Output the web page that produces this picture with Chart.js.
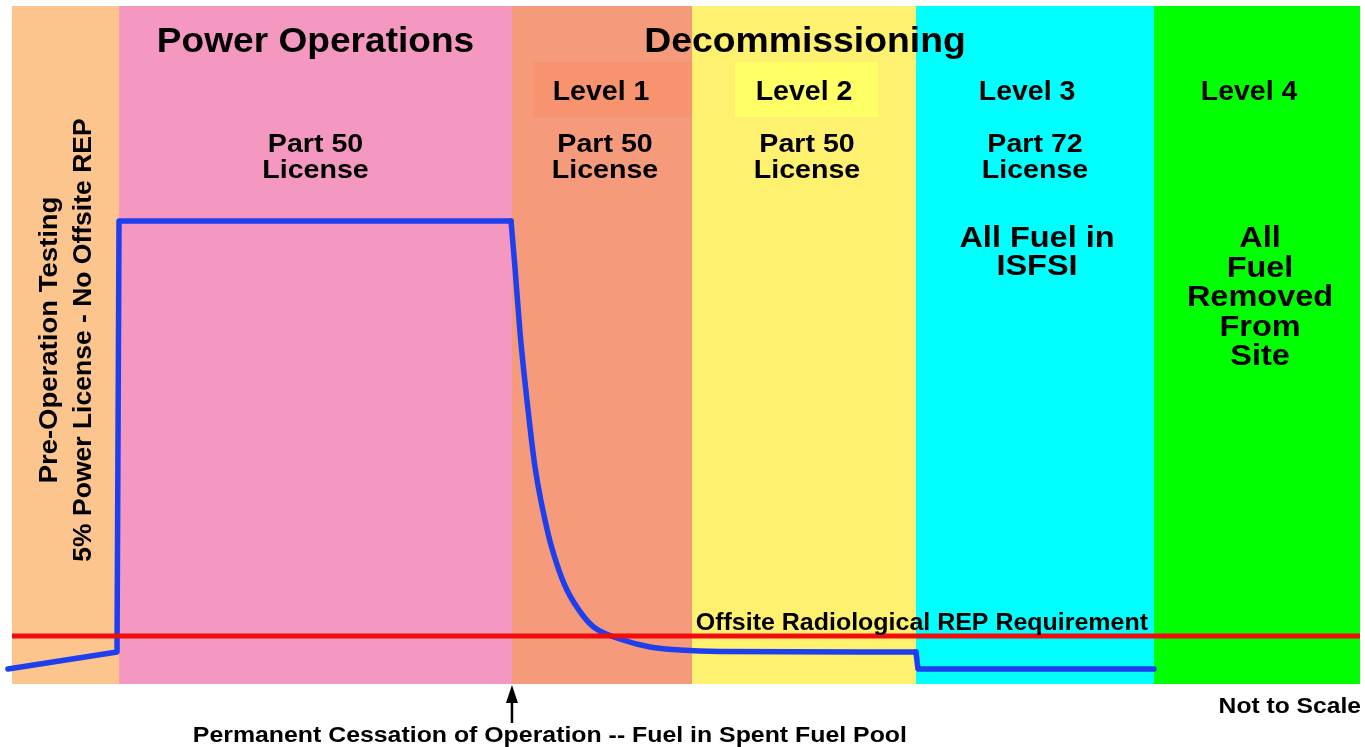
<!DOCTYPE html>
<html>
<head>
<meta charset="utf-8">
<script src="https://cdn.jsdelivr.net/npm/chart.js@4.4.1/dist/chart.umd.min.js"></script>
<style>
  html, body { margin: 0; padding: 0; background: #fff; }
  #wrap { width: 1365px; height: 747px; position: relative; }
</style>
</head>
<body>
<div id="wrap"><canvas id="phaseChart"></canvas></div>
<script>
// Datos (escala relativa, "Not to Scale")
const bandEdges = [0, 7.94, 37.09, 50.45, 67.06, 84.72, 100];
const phaseTitles = ['Power Operations', 'Decommissioning'];
const levelLabels = ['Level 1', 'Level 2', 'Level 3', 'Level 4'];
const licenseLabels = [['Part 50', 'License'], ['Part 50', 'License'], ['Part 50', 'License'], ['Part 72', 'License']];
const fuelLabels = [['All Fuel in', 'ISFSI'], ['All', 'Fuel', 'Removed', 'From', 'Site']];
const preOpLabels = ['Pre-Operation Testing', '5% Power License - No Offsite REP'];
const repLabel = 'Offsite Radiological REP Requirement';
const cessationLabel = 'Permanent Cessation of Operation -- Fuel in Spent Fuel Pool';
const scaleNote = 'Not to Scale';

// Curva de riesgo
const riskX = [-0.3, 7.79, 7.94, 37.02, 37.31, 37.69, 38.2, 38.8, 39.76, 40.47, 41.17, 42.38, 43.25, 45.33, 47.33, 49.55, 52.5, 67.06, 67.21, 84.72];
const riskY = [2.21, 4.72, 68.29, 68.29, 61.5, 51.77, 41.9, 32.0, 22.27, 17.4, 13.86, 10.03, 8.26, 6.49, 5.46, 5.01, 4.79, 4.72, 2.21, 2.21];
const decayStart = 3;   // índice donde empieza la caída
const decayEnd = 17;    // índice donde termina

// Requisito REP
const repX = [0, 100];
const repY = [7.08, 7.08];

const bandColors = ['#FDC58E', '#F498C2', '#F59A7B', '#FEF170', '#00FFFF', '#00FF00'];
const FONT = '"Liberation Sans", Arial, sans-serif';
const BLUE = '#1E3FEE';

function txt(ctx, s, x, y, size, sx, align) {
    ctx.save();
    ctx.font = 'bold ' + size + 'px ' + FONT;
    ctx.textAlign = align || 'center';
    ctx.textBaseline = 'alphabetic';
    ctx.fillStyle = '#000';
    ctx.translate(x, y);
    ctx.scale(sx || 1, 1);
    ctx.fillText(s, 0, 0);
    ctx.restore();
}

const bandsPlugin = {
    id: 'bands',
    beforeDatasetsDraw(chart) {
        const { ctx, chartArea, scales } = chart;
        const xs = scales.x;
        const px = v => xs.getPixelForValue(v);
        const mid = i => (px(bandEdges[i]) + px(bandEdges[i + 1])) / 2;
        ctx.save();
        // Bandas de fases
        for (let i = 0; i < bandColors.length; i++) {
            ctx.fillStyle = bandColors[i];
            ctx.fillRect(px(bandEdges[i]), chartArea.top, px(bandEdges[i + 1]) - px(bandEdges[i]), chartArea.bottom - chartArea.top);
        }
        // Cajas de Level 1 y 2
        ctx.fillStyle = '#F7946F';
        ctx.fillRect(px(38.65), 62, px(50.45) - px(38.65), 55);
        ctx.fillStyle = '#FFFF66';
        ctx.fillRect(px(53.64), 62, px(64.24) - px(53.64), 55);

        // Títulos
        txt(ctx, phaseTitles[0], mid(1), 52, 35, 1.06);
        txt(ctx, phaseTitles[1], px(58.83), 52, 35, 1.067);

        const levelX = [mid(2) - 1, mid(3), px(75.3), px(91.77)];
        levelLabels.forEach((s, i) => txt(ctx, s, levelX[i], 100, 27, 1.055));

        const licX = [mid(1), mid(2) + 3, mid(3) + 3, mid(4)];
        licenseLabels.forEach((lines, i) => {
            txt(ctx, lines[0], licX[i], 152, 26, 1.1);
            txt(ctx, lines[1], licX[i], 178, 26, 1.1);
        });

        fuelLabels[0].forEach((s, i) => txt(ctx, s, mid(4) + 2, 247 + i * 28, 29, 1.12));
        fuelLabels[1].forEach((s, i) => txt(ctx, s, mid(5) + 3, 247 + i * 29.5, 29, 1.12));

        // Texto vertical
        ctx.save();
        ctx.translate(57, 340);
        ctx.rotate(-Math.PI / 2);
        txt(ctx, preOpLabels[0], 0, 0, 25, 1.1);
        txt(ctx, preOpLabels[1], 0, 34, 25, 1.06);
        ctx.restore();

        ctx.restore();
    },
    afterDraw(chart) {
        const { ctx, scales } = chart;
        const px = v => scales.x.getPixelForValue(v);
        ctx.save();
        txt(ctx, repLabel, px(67.5), 630, 24, 1.04);
        txt(ctx, cessationLabel, px(39.9), 742, 22, 1.13);
        txt(ctx, scaleNote, 1361, 713, 22, 1.12, 'right');

        // Flecha de cese permanente
        const ax = px(bandEdges[2]);
        ctx.strokeStyle = '#000';
        ctx.lineWidth = 2.5;
        ctx.beginPath();
        ctx.moveTo(ax, 700);
        ctx.lineTo(ax, 723);
        ctx.stroke();
        ctx.fillStyle = '#000';
        ctx.beginPath();
        ctx.moveTo(ax, 685);
        ctx.lineTo(ax - 6, 703);
        ctx.lineTo(ax + 6, 703);
        ctx.closePath();
        ctx.fill();
        ctx.restore();
    }
};

const pts = (a, b) => riskX.slice(a, b).map((x, i) => ({ x: x, y: riskY[a + i] }));

const riskStyle = {
    borderColor: BLUE,
    borderWidth: 5.5,
    borderJoinStyle: 'round',
    borderCapStyle: 'round',
    pointRadius: 0,
    clip: false
};

const ctx = document.getElementById('phaseChart').getContext('2d');

const chart = new Chart(ctx, {
    type: 'line',
    data: {
        datasets: [{
            label: 'REP',
            data: repX.map((x, i) => ({ x: x, y: repY[i] })),
            borderColor: '#F20D0D',
            borderWidth: 5,
            pointRadius: 0,
            tension: 0
        }, Object.assign({
            label: 'Operación',
            data: pts(0, decayStart + 1),
            tension: 0
        }, riskStyle), Object.assign({
            label: 'Decaimiento',
            data: pts(decayStart, decayEnd + 1),
            cubicInterpolationMode: 'monotone'
        }, riskStyle), Object.assign({
            label: 'ISFSI',
            data: pts(decayEnd, riskX.length),
            tension: 0
        }, riskStyle)]
    },
    options: {
        responsive: true,
        maintainAspectRatio: false,
        animation: false,
        layout: { padding: { left: 12, right: 5, top: 6, bottom: 63 } },
        scales: {
            x: { type: 'linear', min: 0, max: 100, display: false },
            y: { min: 0, max: 100, display: false }
        },
        plugins: {
            legend: { display: false },
            tooltip: { enabled: false }
        }
    },
    plugins: [bandsPlugin]
});
</script>
</body>
</html>
